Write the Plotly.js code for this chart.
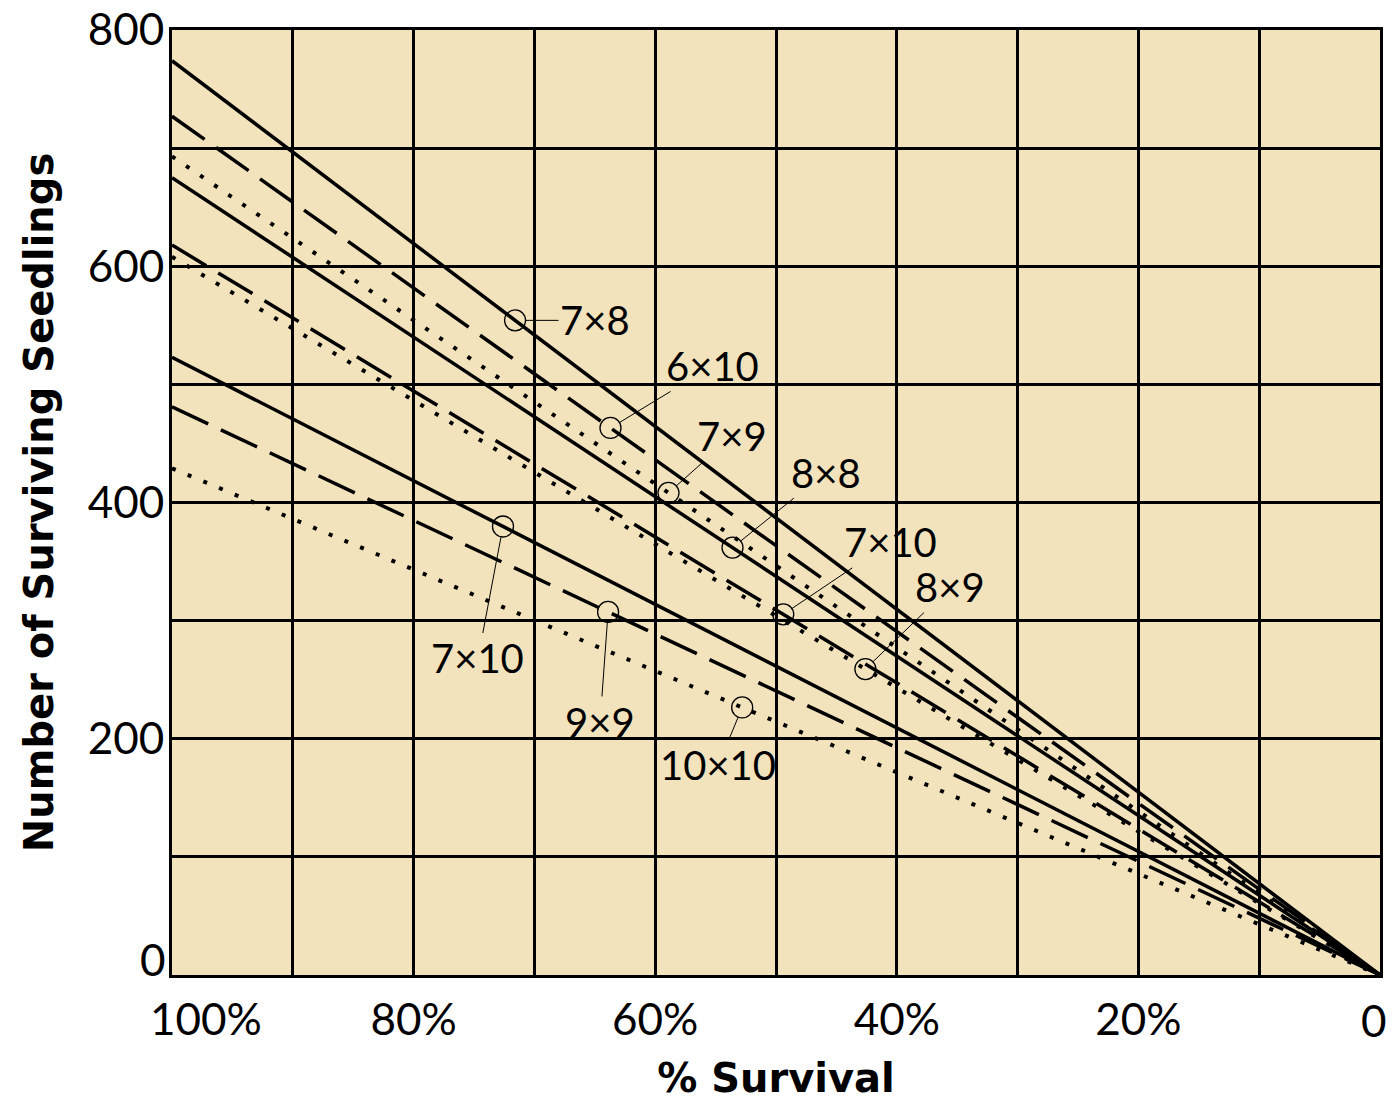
<!DOCTYPE html>
<html>
<head>
<meta charset="utf-8">
<script src="https://cdn.plot.ly/plotly-3.0.1.min.js"></script>
<style>html,body{margin:0;padding:0;background:#fff;}#chart{width:1393px;height:1102px;}</style>
</head>
<body>
<div id="chart"></div>
<script>
// Seedlings surviving at 100% survival, for each line (top to bottom)
const seedlingsAt100 = [774, 727, 693, 675, 618, 608, 523, 481, 429];
const lineStyles = ['solid', 'dash', 'dot', 'solid', 'dash', 'dot', 'solid', 'dash', 'dot'];
// Spacing labels as printed on the chart, and the % survival where each label's circle sits
const spacingLabels = ['7×8', '6×10', '7×9', '8×8', '7×10', '8×9', '7×10', '9×9', '10×10'];
const labelPct = [71.6, 63.7, 58.9, 53.6, 49.4, 42.6, 72.6, 63.9, 52.8];
const labelOffsetX = [80, 102, 64, 93, 107, 85, -25, -8, -24];
const labelOffsetY = [0, -62, -57, -75, -72, -82, 132, 110, 58];
const xTickVals = [100, 90, 80, 70, 60, 50, 40, 30, 20, 10, 0];
const xTickText = ['\u00a0\u00a0\u00a0\u00a0\u00a0\u00a0100%', '', '80%', '', '60%', '', '40%', '', '20%', '', ''];
const xZeroLabel = '0';
const yTickVals = [0, 100, 200, 300, 400, 500, 600, 700, 800];
const yTickText = ['', '', '200', '', '400', '', '600', '', '800'];
const yZeroLabel = '0';

const dashMap = {solid: 'solid', dash: '40px,14px', dot: '4px,13px'};
const FONT = 'Lato, "Open Sans", sans-serif';
const TFONT = '"DejaVu Sans", sans-serif';

const traces = seedlingsAt100.map((n, i) => ({
  type: 'scatter', mode: 'lines',
  x: [100, 0], y: [n, 0],
  line: {color: '#000', width: lineStyles[i] === 'dot' ? 4 : 3.5, dash: dashMap[lineStyles[i]]},
  hoverinfo: 'skip', showlegend: false
}));

const markX = labelPct.slice();
const markY = labelPct.map((p, i) => seedlingsAt100[i] * p / 100);
traces.push({
  type: 'scatter', mode: 'markers', x: markX, y: markY,
  marker: {symbol: 'circle-open', size: 21, color: '#000', line: {width: 1.3, color: '#000'}},
  hoverinfo: 'skip', showlegend: false
});

const annotations = spacingLabels.map((t, i) => ({
  x: markX[i], y: markY[i], xref: 'x', yref: 'y',
  text: t, showarrow: true, arrowhead: 0, arrowwidth: 1, arrowcolor: '#000',
  ax: labelOffsetX[i], ay: labelOffsetY[i], standoff: 10, startstandoff: 0,
  font: {family: FONT, size: 40, color: '#000'}
}));
// y-axis "0" label sits a little above its gridline in the original
annotations.push({
  x: 0, xref: 'paper', xanchor: 'right', xshift: -4,
  y: 0, yref: 'y', yanchor: 'middle', yshift: 16,
  text: yZeroLabel, showarrow: false,
  font: {family: FONT, size: 44, color: '#000'}
});
// x-axis "0" label kept inside the page at the right edge
annotations.push({
  x: 0, xref: 'x', xanchor: 'center', xshift: -6,
  y: 0, yref: 'paper', yanchor: 'middle', yshift: -45,
  text: xZeroLabel, showarrow: false,
  font: {family: FONT, size: 44, color: '#000'}
});

const layout = {
  width: 1393, height: 1102,
  margin: {l: 172, r: 13, t: 30, b: 127},
  paper_bgcolor: '#ffffff', plot_bgcolor: '#F2E3BD',
  showlegend: false,
  font: {family: FONT, color: '#000'},
  xaxis: {
    range: [100, 0], tickvals: xTickVals, ticktext: xTickText,
    showgrid: true, gridcolor: '#000', gridwidth: 3,
    showline: true, linecolor: '#000', linewidth: 3, mirror: true,
    ticks: '', zeroline: false, ticklabelstandoff: 4,
    tickfont: {family: FONT, size: 44, color: '#000'},
    title: {text: '<b>% Survival</b>', font: {family: TFONT, size: 40, color: '#000'}, standoff: 22}
  },
  yaxis: {
    range: [0, 800], tickvals: yTickVals, ticktext: yTickText,
    showgrid: true, gridcolor: '#000', gridwidth: 3,
    showline: true, linecolor: '#000', linewidth: 3, mirror: true,
    ticks: '', zeroline: false, ticklabelstandoff: -4,
    tickfont: {family: FONT, size: 44, color: '#000'},
    title: {text: '<b>Number of Surviving Seedlings</b>', font: {family: TFONT, size: 40, color: '#000'}, standoff: 22}
  },
  annotations: annotations
};

Plotly.newPlot('chart', traces, layout, {displayModeBar: false, staticPlot: true});
</script>
</body>
</html>
